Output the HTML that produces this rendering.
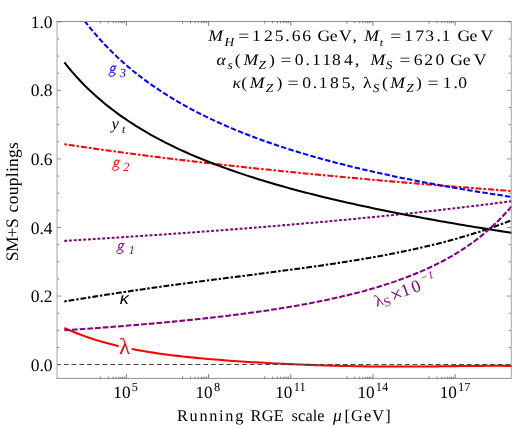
<!DOCTYPE html>
<html><head><meta charset="utf-8"><title>RGE running couplings</title>
<style>html,body{margin:0;padding:0;background:#fff}svg{display:block}</style>
</head><body>
<div style="width:512px;height:429px;will-change:transform">
<svg width="512" height="429" viewBox="0 0 512 429">
<rect width="512" height="429" fill="#fff"/>
<defs><clipPath id="c"><rect x="57" y="21.5" width="455" height="356.9"/></clipPath></defs>
<g fill="none" stroke-width="2.05" clip-path="url(#c)">
<path d="M64.30,240.89 L68.06,240.66 L71.82,240.43 L75.59,240.20 L79.35,239.97 L83.11,239.74 L86.87,239.50 L90.64,239.27 L94.40,239.03 L98.16,238.79 L101.92,238.56 L105.68,238.32 L109.45,238.07 L113.21,237.83 L116.97,237.59 L120.73,237.34 L124.49,237.10 L128.26,236.85 L132.02,236.60 L135.78,236.35 L139.54,236.10 L143.31,235.84 L147.07,235.59 L150.83,235.33 L154.59,235.07 L158.35,234.82 L162.12,234.56 L165.88,234.29 L169.64,234.03 L173.40,233.76 L177.17,233.50 L180.93,233.23 L184.69,232.96 L188.45,232.69 L192.21,232.42 L195.98,232.14 L199.74,231.87 L203.50,231.59 L207.26,231.31 L211.03,231.03 L214.79,230.75 L218.55,230.46 L222.31,230.18 L226.07,229.89 L229.84,229.60 L233.60,229.31 L237.36,229.01 L241.12,228.72 L244.88,228.42 L248.65,228.12 L252.41,227.82 L256.17,227.52 L259.93,227.22 L263.70,226.91 L267.46,226.60 L271.22,226.29 L274.98,225.98 L278.74,225.67 L282.51,225.35 L286.27,225.04 L290.03,224.72 L293.79,224.39 L297.56,224.07 L301.32,223.74 L305.08,223.41 L308.84,223.08 L312.60,222.75 L316.37,222.42 L320.13,222.08 L323.89,221.74 L327.65,221.40 L331.42,221.05 L335.18,220.71 L338.94,220.36 L342.70,220.01 L346.46,219.65 L350.23,219.30 L353.99,218.94 L357.75,218.58 L361.51,218.21 L365.27,217.85 L369.04,217.48 L372.80,217.10 L376.56,216.73 L380.32,216.35 L384.09,215.97 L387.85,215.59 L391.61,215.20 L395.37,214.82 L399.13,214.43 L402.90,214.03 L406.66,213.63 L410.42,213.23 L414.18,212.83 L417.95,212.42 L421.71,212.01 L425.47,211.60 L429.23,211.19 L432.99,210.77 L436.76,210.34 L440.52,209.92 L444.28,209.49 L448.04,209.06 L451.81,208.62 L455.57,208.18 L459.33,207.74 L463.09,207.29 L466.85,206.84 L470.62,206.39 L474.38,205.93 L478.14,205.47 L481.90,205.00 L485.66,204.53 L489.43,204.06 L493.19,203.58 L496.95,203.10 L500.71,202.62 L504.48,202.13 L508.24,201.63 L512.00,201.13" stroke="#800080" stroke-dasharray="2.8 1.95"/>
<path d="M64.30,144.24 L68.06,144.81 L71.82,145.36 L75.59,145.92 L79.35,146.47 L83.11,147.01 L86.87,147.56 L90.64,148.09 L94.40,148.63 L98.16,149.16 L101.92,149.68 L105.68,150.20 L109.45,150.72 L113.21,151.24 L116.97,151.75 L120.73,152.26 L124.49,152.76 L128.26,153.26 L132.02,153.76 L135.78,154.25 L139.54,154.74 L143.31,155.23 L147.07,155.71 L150.83,156.19 L154.59,156.66 L158.35,157.14 L162.12,157.61 L165.88,158.08 L169.64,158.54 L173.40,159.00 L177.17,159.46 L180.93,159.91 L184.69,160.36 L188.45,160.81 L192.21,161.26 L195.98,161.70 L199.74,162.14 L203.50,162.58 L207.26,163.01 L211.03,163.44 L214.79,163.87 L218.55,164.30 L222.31,164.72 L226.07,165.14 L229.84,165.56 L233.60,165.98 L237.36,166.39 L241.12,166.80 L244.88,167.21 L248.65,167.61 L252.41,168.02 L256.17,168.42 L259.93,168.82 L263.70,169.21 L267.46,169.60 L271.22,170.00 L274.98,170.38 L278.74,170.77 L282.51,171.15 L286.27,171.54 L290.03,171.92 L293.79,172.29 L297.56,172.67 L301.32,173.04 L305.08,173.41 L308.84,173.78 L312.60,174.15 L316.37,174.51 L320.13,174.88 L323.89,175.24 L327.65,175.59 L331.42,175.95 L335.18,176.30 L338.94,176.66 L342.70,177.01 L346.46,177.36 L350.23,177.70 L353.99,178.05 L357.75,178.39 L361.51,178.73 L365.27,179.07 L369.04,179.41 L372.80,179.74 L376.56,180.08 L380.32,180.41 L384.09,180.74 L387.85,181.07 L391.61,181.39 L395.37,181.72 L399.13,182.04 L402.90,182.36 L406.66,182.68 L410.42,183.00 L414.18,183.32 L417.95,183.63 L421.71,183.95 L425.47,184.26 L429.23,184.57 L432.99,184.88 L436.76,185.18 L440.52,185.49 L444.28,185.79 L448.04,186.10 L451.81,186.40 L455.57,186.70 L459.33,186.99 L463.09,187.29 L466.85,187.58 L470.62,187.88 L474.38,188.17 L478.14,188.46 L481.90,188.75 L485.66,189.04 L489.43,189.32 L493.19,189.61 L496.95,189.89 L500.71,190.17 L504.48,190.46 L508.24,190.73 L512.00,191.01" stroke="#ff0000" stroke-dasharray="2.5 1.95 6.0 1.95"/>
<path d="M80.00,14.67 L83.63,19.59 L87.26,24.31 L90.89,28.83 L94.52,33.18 L98.15,37.37 L101.78,41.40 L105.41,45.28 L109.04,49.02 L112.67,52.64 L116.30,56.13 L119.93,59.50 L123.56,62.77 L127.19,65.93 L130.82,69.00 L134.45,71.97 L138.08,74.85 L141.71,77.65 L145.34,80.37 L148.97,83.01 L152.61,85.58 L156.24,88.08 L159.87,90.51 L163.50,92.88 L167.13,95.18 L170.76,97.43 L174.39,99.62 L178.02,101.76 L181.65,103.85 L185.28,105.89 L188.91,107.88 L192.54,109.82 L196.17,111.72 L199.80,113.58 L203.43,115.40 L207.06,117.17 L210.69,118.91 L214.32,120.62 L217.95,122.28 L221.58,123.92 L225.21,125.52 L228.84,127.08 L232.47,128.62 L236.10,130.13 L239.73,131.61 L243.36,133.06 L246.99,134.48 L250.62,135.88 L254.25,137.25 L257.88,138.59 L261.51,139.92 L265.14,141.22 L268.77,142.49 L272.40,143.75 L276.03,144.98 L279.66,146.19 L283.29,147.38 L286.92,148.56 L290.55,149.71 L294.18,150.84 L297.82,151.96 L301.45,153.06 L305.08,154.14 L308.71,155.21 L312.34,156.25 L315.97,157.29 L319.60,158.30 L323.23,159.31 L326.86,160.29 L330.49,161.27 L334.12,162.23 L337.75,163.17 L341.38,164.10 L345.01,165.02 L348.64,165.93 L352.27,166.82 L355.90,167.70 L359.53,168.57 L363.16,169.43 L366.79,170.27 L370.42,171.11 L374.05,171.93 L377.68,172.75 L381.31,173.55 L384.94,174.34 L388.57,175.12 L392.20,175.90 L395.83,176.66 L399.46,177.41 L403.09,178.16 L406.72,178.89 L410.35,179.62 L413.98,180.34 L417.61,181.05 L421.24,181.75 L424.87,182.44 L428.50,183.13 L432.13,183.80 L435.76,184.47 L439.39,185.14 L443.03,185.79 L446.66,186.44 L450.29,187.08 L453.92,187.71 L457.55,188.34 L461.18,188.95 L464.81,189.57 L468.44,190.17 L472.07,190.77 L475.70,191.37 L479.33,191.95 L482.96,192.53 L486.59,193.11 L490.22,193.68 L493.85,194.24 L497.48,194.80 L501.11,195.35 L504.74,195.90 L508.37,196.44 L512.00,196.97" stroke="#0000ff" stroke-dasharray="5.4 2.25"/>
<path d="M64.40,62.48 L68.16,67.17 L71.92,71.64 L75.68,75.91 L79.45,80.00 L83.21,83.92 L86.97,87.67 L90.73,91.28 L94.49,94.75 L98.25,98.09 L102.01,101.31 L105.77,104.42 L109.54,107.41 L113.30,110.31 L117.06,113.11 L120.82,115.82 L124.58,118.45 L128.34,120.99 L132.10,123.46 L135.87,125.85 L139.63,128.18 L143.39,130.44 L147.15,132.64 L150.91,134.78 L154.67,136.86 L158.43,138.89 L162.19,140.87 L165.96,142.80 L169.72,144.68 L173.48,146.52 L177.24,148.31 L181.00,150.06 L184.76,151.78 L188.52,153.45 L192.29,155.09 L196.05,156.69 L199.81,158.26 L203.57,159.80 L207.33,161.31 L211.09,162.78 L214.85,164.23 L218.62,165.65 L222.38,167.04 L226.14,168.41 L229.90,169.75 L233.66,171.07 L237.42,172.36 L241.18,173.63 L244.94,174.88 L248.71,176.11 L252.47,177.32 L256.23,178.51 L259.99,179.68 L263.75,180.83 L267.51,181.96 L271.27,183.08 L275.04,184.18 L278.80,185.26 L282.56,186.33 L286.32,187.38 L290.08,188.41 L293.84,189.43 L297.60,190.44 L301.36,191.43 L305.13,192.42 L308.89,193.38 L312.65,194.34 L316.41,195.28 L320.17,196.21 L323.93,197.13 L327.69,198.04 L331.46,198.93 L335.22,199.82 L338.98,200.69 L342.74,201.56 L346.50,202.41 L350.26,203.26 L354.02,204.09 L357.78,204.92 L361.55,205.74 L365.31,206.55 L369.07,207.35 L372.83,208.14 L376.59,208.92 L380.35,209.70 L384.11,210.46 L387.88,211.22 L391.64,211.97 L395.40,212.72 L399.16,213.46 L402.92,214.19 L406.68,214.91 L410.44,215.63 L414.21,216.34 L417.97,217.04 L421.73,217.74 L425.49,218.43 L429.25,219.12 L433.01,219.80 L436.77,220.47 L440.53,221.14 L444.30,221.80 L448.06,222.46 L451.82,223.11 L455.58,223.75 L459.34,224.39 L463.10,225.03 L466.86,225.66 L470.63,226.29 L474.39,226.91 L478.15,227.52 L481.91,228.13 L485.67,228.74 L489.43,229.34 L493.19,229.94 L496.95,230.53 L500.72,231.12 L504.48,231.71 L508.24,232.29 L512.00,232.87" stroke="#000"/>
<path d="M64.30,327.94 L68.06,329.63 L71.82,331.23 L75.59,332.77 L79.35,334.23 L83.11,335.63 L86.87,336.97 L90.64,338.25 L94.40,339.46 L98.16,340.63 L101.92,341.73 L105.68,342.79 L109.45,343.80 L113.21,344.76 L116.97,345.68 L120.73,346.56 L124.49,347.40 L128.26,348.20 L132.02,348.96 L135.78,349.69 L139.54,350.39 L143.31,351.05 L147.07,351.69 L150.83,352.29 L154.59,352.87 L158.35,353.43 L162.12,353.96 L165.88,354.47 L169.64,354.96 L173.40,355.43 L177.17,355.88 L180.93,356.31 L184.69,356.73 L188.45,357.13 L192.21,357.51 L195.98,357.88 L199.74,358.24 L203.50,358.58 L207.26,358.91 L211.03,359.23 L214.79,359.54 L218.55,359.84 L222.31,360.13 L226.07,360.41 L229.84,360.68 L233.60,360.95 L237.36,361.20 L241.12,361.45 L244.88,361.69 L248.65,361.93 L252.41,362.16 L256.17,362.38 L259.93,362.59 L263.70,362.80 L267.46,363.01 L271.22,363.20 L274.98,363.40 L278.74,363.58 L282.51,363.76 L286.27,363.94 L290.03,364.11 L293.79,364.28 L297.56,364.43 L301.32,364.59 L305.08,364.74 L308.84,364.88 L312.60,365.02 L316.37,365.15 L320.13,365.28 L323.89,365.40 L327.65,365.52 L331.42,365.63 L335.18,365.73 L338.94,365.83 L342.70,365.92 L346.46,366.01 L350.23,366.09 L353.99,366.17 L357.75,366.24 L361.51,366.30 L365.27,366.36 L369.04,366.41 L372.80,366.45 L376.56,366.49 L380.32,366.52 L384.09,366.55 L387.85,366.57 L391.61,366.58 L395.37,366.59 L399.13,366.59 L402.90,366.59 L406.66,366.59 L410.42,366.57 L414.18,366.56 L417.95,366.53 L421.71,366.51 L425.47,366.48 L429.23,366.44 L432.99,366.40 L436.76,366.36 L440.52,366.32 L444.28,366.28 L448.04,366.23 L451.81,366.18 L455.57,366.14 L459.33,366.09 L463.09,366.05 L466.85,366.00 L470.62,365.96 L474.38,365.92 L478.14,365.89 L481.90,365.86 L485.66,365.84 L489.43,365.83 L493.19,365.82 L496.95,365.83 L500.71,365.84 L504.48,365.87 L508.24,365.91 L512.00,365.96" stroke="#ff0000"/>
<path d="M64.30,301.48 L68.06,300.86 L71.82,300.24 L75.59,299.63 L79.35,299.02 L83.11,298.42 L86.87,297.81 L90.64,297.21 L94.40,296.62 L98.16,296.02 L101.92,295.43 L105.68,294.85 L109.45,294.27 L113.21,293.69 L116.97,293.11 L120.73,292.54 L124.49,291.98 L128.26,291.41 L132.02,290.86 L135.78,290.30 L139.54,289.75 L143.31,289.20 L147.07,288.66 L150.83,288.12 L154.59,287.59 L158.35,287.06 L162.12,286.53 L165.88,286.01 L169.64,285.49 L173.40,284.97 L177.17,284.46 L180.93,283.95 L184.69,283.45 L188.45,282.94 L192.21,282.44 L195.98,281.95 L199.74,281.45 L203.50,280.96 L207.26,280.47 L211.03,279.98 L214.79,279.50 L218.55,279.01 L222.31,278.53 L226.07,278.05 L229.84,277.57 L233.60,277.09 L237.36,276.61 L241.12,276.13 L244.88,275.65 L248.65,275.17 L252.41,274.69 L256.17,274.21 L259.93,273.73 L263.70,273.25 L267.46,272.77 L271.22,272.28 L274.98,271.80 L278.74,271.31 L282.51,270.81 L286.27,270.32 L290.03,269.82 L293.79,269.32 L297.56,268.81 L301.32,268.30 L305.08,267.78 L308.84,267.26 L312.60,266.74 L316.37,266.21 L320.13,265.67 L323.89,265.13 L327.65,264.58 L331.42,264.02 L335.18,263.46 L338.94,262.88 L342.70,262.30 L346.46,261.71 L350.23,261.11 L353.99,260.51 L357.75,259.89 L361.51,259.26 L365.27,258.62 L369.04,257.98 L372.80,257.31 L376.56,256.64 L380.32,255.96 L384.09,255.26 L387.85,254.55 L391.61,253.82 L395.37,253.09 L399.13,252.33 L402.90,251.56 L406.66,250.78 L410.42,249.98 L414.18,249.16 L417.95,248.33 L421.71,247.47 L425.47,246.60 L429.23,245.72 L432.99,244.81 L436.76,243.88 L440.52,242.93 L444.28,241.96 L448.04,240.97 L451.81,239.95 L455.57,238.91 L459.33,237.85 L463.09,236.76 L466.85,235.65 L470.62,234.52 L474.38,233.35 L478.14,232.16 L481.90,230.94 L485.66,229.70 L489.43,228.42 L493.19,227.11 L496.95,225.77 L500.71,224.40 L504.48,223.00 L508.24,221.56 L512.00,220.09" stroke="#000" stroke-dasharray="2.5 1.85 5.8 1.85"/>
<path d="M64.30,330.29 L68.06,330.04 L71.82,329.79 L75.59,329.53 L79.35,329.27 L83.11,329.01 L86.87,328.74 L90.64,328.47 L94.40,328.20 L98.16,327.92 L101.92,327.65 L105.68,327.36 L109.45,327.08 L113.21,326.79 L116.97,326.50 L120.73,326.20 L124.49,325.90 L128.26,325.60 L132.02,325.29 L135.78,324.98 L139.54,324.66 L143.31,324.34 L147.07,324.02 L150.83,323.69 L154.59,323.36 L158.35,323.02 L162.12,322.68 L165.88,322.33 L169.64,321.97 L173.40,321.62 L177.17,321.25 L180.93,320.88 L184.69,320.51 L188.45,320.13 L192.21,319.74 L195.98,319.35 L199.74,318.95 L203.50,318.54 L207.26,318.13 L211.03,317.71 L214.79,317.28 L218.55,316.84 L222.31,316.40 L226.07,315.95 L229.84,315.49 L233.60,315.02 L237.36,314.55 L241.12,314.07 L244.88,313.57 L248.65,313.07 L252.41,312.56 L256.17,312.03 L259.93,311.50 L263.70,310.96 L267.46,310.41 L271.22,309.84 L274.98,309.26 L278.74,308.67 L282.51,308.07 L286.27,307.46 L290.03,306.83 L293.79,306.19 L297.56,305.53 L301.32,304.86 L305.08,304.18 L308.84,303.48 L312.60,302.76 L316.37,302.03 L320.13,301.27 L323.89,300.50 L327.65,299.72 L331.42,298.91 L335.18,298.08 L338.94,297.23 L342.70,296.36 L346.46,295.47 L350.23,294.55 L353.99,293.61 L357.75,292.65 L361.51,291.66 L365.27,290.64 L369.04,289.59 L372.80,288.51 L376.56,287.40 L380.32,286.26 L384.09,285.09 L387.85,283.88 L391.61,282.63 L395.37,281.35 L399.13,280.03 L402.90,278.66 L406.66,277.25 L410.42,275.80 L414.18,274.29 L417.95,272.74 L421.71,271.14 L425.47,269.47 L429.23,267.75 L432.99,265.97 L436.76,264.13 L440.52,262.21 L444.28,260.23 L448.04,258.17 L451.81,256.03 L455.57,253.80 L459.33,251.49 L463.09,249.08 L466.85,246.57 L470.62,243.96 L474.38,241.23 L478.14,238.38 L481.90,235.40 L485.66,232.29 L489.43,229.03 L493.19,225.61 L496.95,222.03 L500.71,218.26 L504.48,214.31 L508.24,210.14 L512.00,205.76" stroke="#800080" stroke-dasharray="5.7 2.0"/>
</g>
<line x1="57.0" y1="364.5" x2="511.0" y2="364.5" stroke="#3a3a3a" stroke-width="0.95" stroke-dasharray="4.7 3.05" stroke-dashoffset="0.9"/>
<path d="M57.0,21.5V378.4M511.25,21.5V378.4" stroke="#a4a4a4" stroke-width="1" fill="none"/>
<path d="M56.5,21.5H511.5M56.5,378.4H511.5" stroke="#8e8e8e" stroke-width="1" fill="none"/>
<path d="M126.40,378.4v-4.2M126.40,21.5v4.2M100.30,378.4v-2.0M100.30,21.5v2.0M108.30,378.4v-1.7M108.30,21.5v1.7M113.00,378.4v-1.7M113.00,21.5v1.7M116.15,378.4v-1.7M116.15,21.5v1.7M118.90,378.4v-1.7M118.90,21.5v1.7M120.90,378.4v-1.7M120.90,21.5v1.7M122.65,378.4v-1.7M122.65,21.5v1.7M124.30,378.4v-1.7M124.30,21.5v1.7M208.60,378.4v-4.2M208.60,21.5v4.2M182.50,378.4v-2.0M182.50,21.5v2.0M190.50,378.4v-1.7M190.50,21.5v1.7M195.20,378.4v-1.7M195.20,21.5v1.7M198.35,378.4v-1.7M198.35,21.5v1.7M201.10,378.4v-1.7M201.10,21.5v1.7M203.10,378.4v-1.7M203.10,21.5v1.7M204.85,378.4v-1.7M204.85,21.5v1.7M206.50,378.4v-1.7M206.50,21.5v1.7M290.80,378.4v-4.2M290.80,21.5v4.2M264.70,378.4v-2.0M264.70,21.5v2.0M272.70,378.4v-1.7M272.70,21.5v1.7M277.40,378.4v-1.7M277.40,21.5v1.7M280.55,378.4v-1.7M280.55,21.5v1.7M283.30,378.4v-1.7M283.30,21.5v1.7M285.30,378.4v-1.7M285.30,21.5v1.7M287.05,378.4v-1.7M287.05,21.5v1.7M288.70,378.4v-1.7M288.70,21.5v1.7M373.00,378.4v-4.2M373.00,21.5v4.2M346.90,378.4v-2.0M346.90,21.5v2.0M354.90,378.4v-1.7M354.90,21.5v1.7M359.60,378.4v-1.7M359.60,21.5v1.7M362.75,378.4v-1.7M362.75,21.5v1.7M365.50,378.4v-1.7M365.50,21.5v1.7M367.50,378.4v-1.7M367.50,21.5v1.7M369.25,378.4v-1.7M369.25,21.5v1.7M370.90,378.4v-1.7M370.90,21.5v1.7M455.20,378.4v-4.2M455.20,21.5v4.2M429.10,378.4v-2.0M429.10,21.5v2.0M437.10,378.4v-1.7M437.10,21.5v1.7M441.80,378.4v-1.7M441.80,21.5v1.7M444.95,378.4v-1.7M444.95,21.5v1.7M447.70,378.4v-1.7M447.70,21.5v1.7M449.70,378.4v-1.7M449.70,21.5v1.7M451.45,378.4v-1.7M451.45,21.5v1.7M453.10,378.4v-1.7M453.10,21.5v1.7" stroke="#333" stroke-width="0.65" fill="none"/>
<path d="M57.0,364.65h4.2M511.0,364.65h-4.2M57.0,347.50h2.5M511.0,347.50h-2.5M57.0,330.36h2.5M511.0,330.36h-2.5M57.0,313.21h2.5M511.0,313.21h-2.5M57.0,296.07h4.2M511.0,296.07h-4.2M57.0,278.92h2.5M511.0,278.92h-2.5M57.0,261.78h2.5M511.0,261.78h-2.5M57.0,244.63h2.5M511.0,244.63h-2.5M57.0,227.49h4.2M511.0,227.49h-4.2M57.0,210.34h2.5M511.0,210.34h-2.5M57.0,193.20h2.5M511.0,193.20h-2.5M57.0,176.05h2.5M511.0,176.05h-2.5M57.0,158.91h4.2M511.0,158.91h-4.2M57.0,141.76h2.5M511.0,141.76h-2.5M57.0,124.62h2.5M511.0,124.62h-2.5M57.0,107.48h2.5M511.0,107.48h-2.5M57.0,90.33h4.2M511.0,90.33h-4.2M57.0,73.18h2.5M511.0,73.18h-2.5M57.0,56.04h2.5M511.0,56.04h-2.5M57.0,38.89h2.5M511.0,38.89h-2.5M57.0,21.75h4.2M511.0,21.75h-4.2" stroke="#666" stroke-width="0.7" fill="none"/>
<g font-family="Liberation Serif, serif" fill="#000" style="text-rendering:geometricPrecision">
<text x="30.8" y="370.80" font-size="17.5" textLength="21.8" lengthAdjust="spacing">0.0</text>
<text x="30.8" y="302.22" font-size="17.5" textLength="21.8" lengthAdjust="spacing">0.2</text>
<text x="30.8" y="233.64" font-size="17.5" textLength="21.8" lengthAdjust="spacing">0.4</text>
<text x="30.8" y="165.06" font-size="17.5" textLength="21.8" lengthAdjust="spacing">0.6</text>
<text x="30.8" y="96.48" font-size="17.5" textLength="21.8" lengthAdjust="spacing">0.8</text>
<text x="30.8" y="27.90" font-size="17.5" textLength="21.8" lengthAdjust="spacing">1.0</text>
<text x="113.30" y="398.1" font-size="17.2">10</text>
<text x="131.70" y="391.1" font-size="12.4">5</text>
<text x="195.50" y="398.1" font-size="17.2">10</text>
<text x="213.90" y="391.1" font-size="12.4">8</text>
<text x="275.25" y="398.1" font-size="17.2">10</text>
<text x="293.65" y="391.1" font-size="12.4">11</text>
<text x="357.45" y="398.1" font-size="17.2">10</text>
<text x="375.85" y="391.1" font-size="12.4">14</text>
<text x="439.65" y="398.1" font-size="17.2">10</text>
<text x="458.05" y="391.1" font-size="12.4">17</text>
<text x="177.0" y="421.4" font-size="16.3" textLength="66.3" lengthAdjust="spacing">Running</text>
<text x="250.6" y="421.4" font-size="16.3" textLength="33.2" lengthAdjust="spacing">RGE</text>
<text x="291.6" y="421.4" font-size="16.3" textLength="33.0" lengthAdjust="spacing">scale</text>
<text x="333.0" y="421.4" font-size="17.5" font-style="italic">μ</text>
<text x="344.6" y="421.4" font-size="16.3" textLength="46.0" lengthAdjust="spacing">[GeV]</text>
<text transform="translate(17.6,261.2) rotate(-90)" font-size="17.5" textLength="43.0" lengthAdjust="spacing">SM+S</text>
<text transform="translate(17.6,212.4) rotate(-90)" font-size="17.5" textLength="70.3" lengthAdjust="spacing">couplings</text>
<g transform="translate(108.2,65.4) scale(0.078125)" fill="none" stroke="#0000ff" stroke-linecap="round"><ellipse cx="60" cy="37" rx="23" ry="33" transform="rotate(36 60 37)" stroke-width="14"/><path d="M84,12 L105,9" stroke-width="10"/><path d="M34,64 C22,72 22,82 40,87" stroke-width="10"/><ellipse cx="48" cy="113" rx="40" ry="26" transform="rotate(-10 48 113)" stroke-width="11"/></g>
<text x="119.7" y="76.9" font-size="12.4" font-style="italic" fill="#0000ff">3</text>
<text x="111.6" y="129.2" font-size="16.6" font-style="italic" fill="#000">y</text>
<text x="121.9" y="132.9" font-size="11.6" font-style="italic" fill="#000">t</text>
<g transform="translate(111.7,159.5) scale(0.078125)" fill="none" stroke="#ff0000" stroke-linecap="round"><ellipse cx="60" cy="37" rx="23" ry="33" transform="rotate(36 60 37)" stroke-width="14"/><path d="M84,12 L105,9" stroke-width="10"/><path d="M34,64 C22,72 22,82 40,87" stroke-width="10"/><ellipse cx="48" cy="113" rx="40" ry="26" transform="rotate(-10 48 113)" stroke-width="11"/></g>
<text x="123.2" y="170.9" font-size="12.4" font-style="italic" fill="#ff0000">2</text>
<g transform="translate(116.1,242.75) scale(0.078125)" fill="none" stroke="#800080" stroke-linecap="round"><ellipse cx="60" cy="37" rx="23" ry="33" transform="rotate(36 60 37)" stroke-width="14"/><path d="M84,12 L105,9" stroke-width="10"/><path d="M34,64 C22,72 22,82 40,87" stroke-width="10"/><ellipse cx="48" cy="113" rx="40" ry="26" transform="rotate(-10 48 113)" stroke-width="11"/></g>
<text x="128.8" y="253.9" font-size="12.0" font-style="italic" fill="#800080">1</text>
<text transform="translate(119.7,303.8) scale(1.1,1)" font-size="16.5" font-style="italic" font-family="Liberation Sans, sans-serif">κ</text>
<rect x="118.6" y="338" width="13.2" height="17" fill="#fff"/>
<text x="118.9" y="353.6" font-size="23" fill="#ff0000">λ</text>
<g transform="translate(376.1,307.2) rotate(-20.5)" fill="#800080"><text x="0.8" y="0" font-size="16.5">λ</text><text x="8.9" y="3.2" font-size="12.4">S</text><text x="17.6" y="2.0" font-size="21">×</text><text x="29.0" y="0" font-size="17.5">1</text><text x="40.1" y="0" font-size="17.5">0</text><text x="52.0" y="-7.4" font-size="11.5">−</text><text x="59.6" y="-7.6" font-size="11" font-style="italic">1</text></g>
<text transform="translate(215.50,41.40) scale(1.1,1)" font-size="16" text-anchor="middle" font-style="italic">M</text>
<text transform="translate(229.40,45.60) scale(1.1,1)" font-size="12.2" text-anchor="middle" font-style="italic">H</text>
<text transform="translate(243.85,41.40) scale(1.22,1)" font-size="16" text-anchor="middle">=</text>
<text transform="translate(256.35,41.40) scale(1.1,1)" font-size="16" text-anchor="middle">1</text>
<text transform="translate(268.48,41.40) scale(1.1,1)" font-size="16" text-anchor="middle">2</text>
<text transform="translate(279.10,41.40) scale(1.1,1)" font-size="16" text-anchor="middle">5</text>
<text transform="translate(287.40,41.40) scale(1.1,1)" font-size="16" text-anchor="middle">.</text>
<text transform="translate(296.15,41.40) scale(1.1,1)" font-size="16" text-anchor="middle">6</text>
<text transform="translate(306.70,41.40) scale(1.1,1)" font-size="16" text-anchor="middle">6</text>
<text transform="translate(323.80,41.40) scale(1.1,1)" font-size="16" text-anchor="middle">G</text>
<text transform="translate(333.57,41.40) scale(1.1,1)" font-size="16" text-anchor="middle">e</text>
<text transform="translate(345.30,41.40) scale(1.1,1)" font-size="16" text-anchor="middle">V</text>
<text transform="translate(354.70,41.40) scale(1.1,1)" font-size="16" text-anchor="middle">,</text>
<text transform="translate(371.65,41.40) scale(1.1,1)" font-size="16" text-anchor="middle" font-style="italic">M</text>
<text transform="translate(381.38,45.60) scale(1.1,1)" font-size="10.8" text-anchor="middle" font-style="italic">t</text>
<text transform="translate(395.70,41.40) scale(1.22,1)" font-size="16" text-anchor="middle">=</text>
<text transform="translate(408.77,41.40) scale(1.1,1)" font-size="16" text-anchor="middle">1</text>
<text transform="translate(419.68,41.40) scale(1.1,1)" font-size="16" text-anchor="middle">7</text>
<text transform="translate(429.70,41.40) scale(1.1,1)" font-size="16" text-anchor="middle">3</text>
<text transform="translate(438.70,41.40) scale(1.1,1)" font-size="16" text-anchor="middle">.</text>
<text transform="translate(445.88,41.40) scale(1.1,1)" font-size="16" text-anchor="middle">1</text>
<text transform="translate(463.75,41.40) scale(1.1,1)" font-size="16" text-anchor="middle">G</text>
<text transform="translate(473.50,41.40) scale(1.1,1)" font-size="16" text-anchor="middle">e</text>
<text transform="translate(486.90,41.40) scale(1.1,1)" font-size="16" text-anchor="middle">V</text>
<text transform="translate(221.03,64.80) scale(1.1,1)" font-size="16" text-anchor="middle" font-style="italic">α</text>
<text transform="translate(230.10,69.00) scale(1.1,1)" font-size="12.2" text-anchor="middle" font-style="italic">s</text>
<text transform="translate(237.75,64.80) scale(1.1,1)" font-size="16" text-anchor="middle">(</text>
<text transform="translate(250.72,64.80) scale(1.1,1)" font-size="16" text-anchor="middle" font-style="italic">M</text>
<text transform="translate(262.20,69.00) scale(1.1,1)" font-size="12.2" text-anchor="middle" font-style="italic">Z</text>
<text transform="translate(271.80,64.80) scale(1.1,1)" font-size="16" text-anchor="middle">)</text>
<text transform="translate(285.93,64.80) scale(1.22,1)" font-size="16" text-anchor="middle">=</text>
<text transform="translate(299.25,64.80) scale(1.1,1)" font-size="16" text-anchor="middle">0</text>
<text transform="translate(307.80,64.80) scale(1.1,1)" font-size="16" text-anchor="middle">.</text>
<text transform="translate(316.30,64.80) scale(1.1,1)" font-size="16" text-anchor="middle">1</text>
<text transform="translate(326.65,64.80) scale(1.1,1)" font-size="16" text-anchor="middle">1</text>
<text transform="translate(336.32,64.80) scale(1.1,1)" font-size="16" text-anchor="middle">8</text>
<text transform="translate(348.40,64.80) scale(1.1,1)" font-size="16" text-anchor="middle">4</text>
<text transform="translate(357.30,64.80) scale(1.1,1)" font-size="16" text-anchor="middle">,</text>
<text transform="translate(377.77,64.80) scale(1.1,1)" font-size="16" text-anchor="middle" font-style="italic">M</text>
<text transform="translate(389.18,69.00) scale(1.1,1)" font-size="12.2" text-anchor="middle" font-style="italic">S</text>
<text transform="translate(405.10,64.80) scale(1.22,1)" font-size="16" text-anchor="middle">=</text>
<text transform="translate(418.10,64.80) scale(1.1,1)" font-size="16" text-anchor="middle">6</text>
<text transform="translate(428.55,64.80) scale(1.1,1)" font-size="16" text-anchor="middle">2</text>
<text transform="translate(439.98,64.80) scale(1.1,1)" font-size="16" text-anchor="middle">0</text>
<text transform="translate(456.70,64.80) scale(1.1,1)" font-size="16" text-anchor="middle">G</text>
<text transform="translate(466.65,64.80) scale(1.1,1)" font-size="16" text-anchor="middle">e</text>
<text transform="translate(480.07,64.80) scale(1.1,1)" font-size="16" text-anchor="middle">V</text>
<text transform="translate(236.70,88.20) scale(1.1,1)" font-size="16" text-anchor="middle" font-style="italic">κ</text>
<text transform="translate(244.22,88.20) scale(1.1,1)" font-size="16" text-anchor="middle">(</text>
<text transform="translate(257.00,88.20) scale(1.1,1)" font-size="16" text-anchor="middle" font-style="italic">M</text>
<text transform="translate(269.50,92.40) scale(1.1,1)" font-size="12.2" text-anchor="middle" font-style="italic">Z</text>
<text transform="translate(279.38,88.20) scale(1.1,1)" font-size="16" text-anchor="middle">)</text>
<text transform="translate(293.00,88.20) scale(1.22,1)" font-size="16" text-anchor="middle">=</text>
<text transform="translate(306.75,88.20) scale(1.1,1)" font-size="16" text-anchor="middle">0</text>
<text transform="translate(314.90,88.20) scale(1.1,1)" font-size="16" text-anchor="middle">.</text>
<text transform="translate(323.05,88.20) scale(1.1,1)" font-size="16" text-anchor="middle">1</text>
<text transform="translate(334.32,88.20) scale(1.1,1)" font-size="16" text-anchor="middle">8</text>
<text transform="translate(346.10,88.20) scale(1.1,1)" font-size="16" text-anchor="middle">5</text>
<text transform="translate(353.20,88.20) scale(1.1,1)" font-size="16" text-anchor="middle">,</text>
<text transform="translate(367.32,88.20) scale(1.1,1)" font-size="16" text-anchor="middle">λ</text>
<text transform="translate(376.12,92.40) scale(1.1,1)" font-size="12.2" text-anchor="middle" font-style="italic">S</text>
<text transform="translate(384.90,88.20) scale(1.1,1)" font-size="16" text-anchor="middle">(</text>
<text transform="translate(397.45,88.20) scale(1.1,1)" font-size="16" text-anchor="middle" font-style="italic">M</text>
<text transform="translate(410.00,92.40) scale(1.1,1)" font-size="12.2" text-anchor="middle" font-style="italic">Z</text>
<text transform="translate(418.80,88.20) scale(1.1,1)" font-size="16" text-anchor="middle">)</text>
<text transform="translate(432.90,88.20) scale(1.22,1)" font-size="16" text-anchor="middle">=</text>
<text transform="translate(447.27,88.20) scale(1.1,1)" font-size="16" text-anchor="middle">1</text>
<text transform="translate(455.70,88.20) scale(1.1,1)" font-size="16" text-anchor="middle">.</text>
<text transform="translate(462.62,88.20) scale(1.1,1)" font-size="16" text-anchor="middle">0</text>
</g>
</svg>
</div>
</body></html>
